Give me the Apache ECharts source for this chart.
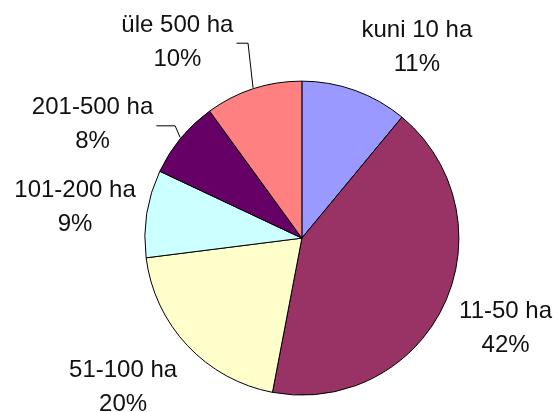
<html>
<head>
  <meta charset="utf-8">
  <title>pie</title>
</head>
<body style="margin:0">
<div id="main" style="width:558px;height:412px;"></div>
<script src="https://cdn.jsdelivr.net/npm/echarts@6/dist/echarts.min.js"></script>
<script>
  var categories = ['kuni 10 ha', '11-50 ha', '51-100 ha', '101-200 ha', '201-500 ha', 'üle 500 ha'];
  var shares = [11, 42, 20, 9, 8, 10];
  var colors = ['#9999FF', '#993366', '#FFFFCC', '#CCFFFF', '#660066', '#FF8080'];

  // label nudges (like labels dragged by hand in the original), px
  var nudge = [[38, 3], [6, 3], [-14, 8], [3, 1], [-30, 18], [-54, 0]];
  var withLine = [false, false, false, false, true, true];

  var R = 157, GAP = 15;
  var total = shares.reduce(function (a, b) { return a + b; }, 0);

  var myChart = echarts.init(document.getElementById('main'));

  function midAngle(i) {
    var s = 0;
    for (var k = 0; k < i; k++) s += shares[k];
    return (s + shares[i] / 2) / total * Math.PI * 2;
  }

  myChart.setOption({
    animation: false,
    series: [{
      type: 'pie',
      center: ['54.1%', '57.8%'],
      radius: R,
      startAngle: 90,
      clockwise: true,
      percentPrecision: 0,
      avoidLabelOverlap: false,
      emphasis: { disabled: true },
      itemStyle: { borderColor: '#000', borderWidth: 1 },
      label: {
        show: true,
        position: 'outside',
        formatter: '{b}\n{d}%',
        fontFamily: 'Liberation Sans, Arial, sans-serif',
        fontSize: 24,
        lineHeight: 34,
        color: '#111',
        align: 'center',
        overflow: 'none',
        edgeDistance: 0
      },
      labelLine: { lineStyle: { color: '#000', width: 1 } },
      labelLayout: function (p) {
        var i = p.dataIndex;
        var cx = myChart.getWidth() * 0.541, cy = myChart.getHeight() * 0.578;
        var a = midAngle(i), sa = Math.sin(a), ca = Math.cos(a);
        var w = p.labelRect.width, h = p.labelRect.height;
        var x = cx + sa * (R + GAP) + sa * w / 2 + nudge[i][0];
        var y = cy - ca * (R + GAP) - ca * h / 2 + nudge[i][1];
        var out = { x: x, y: y, align: 'center', verticalAlign: 'middle' };
        if (withLine[i]) {
          var p0 = [cx + sa * (R + 1), cy - ca * (R + 1)];
          var ly = y + 1;
          out.labelLinePoints = [p0, [p0[0] - 5, ly], [x + w / 2 + 3, ly]];
        }
        return out;
      },
      data: categories.map(function (c, i) {
        return {
          name: c,
          value: shares[i],
          itemStyle: { color: colors[i] },
          labelLine: { show: withLine[i], length: 10, length2: 10 }
        };
      })
    }]
  });
</script>
</body>
</html>
